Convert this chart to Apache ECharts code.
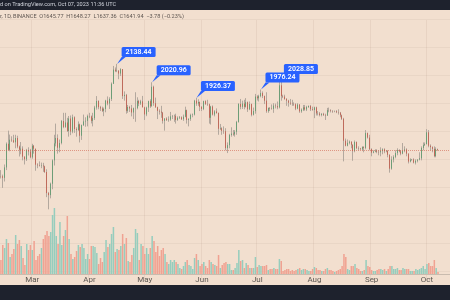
<!DOCTYPE html>
<html><head><meta charset="utf-8">
<script src="https://cdn.jsdelivr.net/npm/echarts@6/dist/echarts.min.js"></script>
<style>html,body{margin:0;padding:0;background:#f2dfcf}#c{width:450px;height:300px}</style>
</head><body><div id="c"></div><script>
// ---- data ----
const startDate = '2023-02-12';
const padDays = 6;
// [open, high, low, close] per day from 2023-02-12 to 2023-10-07
const ohlc = [
[1515,1543,1504,1514],[1514,1522,1461,1507],[1507,1570,1490,1556],[1556,1680,1543,1673],[1673,1742,1640,1642],
[1642,1721,1635,1694],[1694,1712,1683,1691],[1691,1720,1678,1681],[1681,1720,1650,1703],[1703,1715,1650,1659],
[1659,1664,1609,1643],[1643,1682,1620,1648],[1648,1660,1590,1608],[1608,1610,1570,1595],[1595,1647,1587,1641],
[1641,1655,1614,1634],[1634,1647,1600,1605],[1605,1673,1598,1663],[1663,1667,1623,1648],[1648,1648,1540,1569],
[1569,1576,1552,1566],[1566,1585,1560,1563],[1563,1579,1552,1565],[1565,1578,1535,1561],[1561,1564,1530,1534],
[1534,1547,1420,1438],[1438,1443,1368,1429],[1429,1485,1415,1480],[1480,1595,1455,1590],[1590,1720,1565,1675],
[1675,1780,1660,1703],[1703,1722,1623,1653],[1653,1695,1630,1677],[1677,1800,1670,1794],[1794,1840,1755,1762],
[1762,1840,1757,1786],[1786,1812,1735,1740],[1740,1822,1710,1808],[1808,1825,1718,1737],[1737,1830,1728,1815],
[1815,1820,1730,1751],[1751,1760,1710,1745],[1745,1792,1741,1776],[1776,1780,1680,1715],[1715,1775,1693,1772],
[1772,1830,1767,1792],[1792,1815,1763,1795],[1795,1830,1765,1822],[1822,1840,1810,1820],[1820,1825,1781,1795],
[1795,1840,1765,1810],[1810,1880,1800,1870],[1870,1937,1858,1908],[1908,1912,1860,1872],[1872,1880,1850,1865],
[1865,1875,1845,1851],[1851,1870,1821,1862],[1862,1915,1843,1910],[1910,1935,1883,1893],[1893,1930,1862,1920],
[1920,2020,1908,2012],[2012,2125,2010,2101],[2101,2115,2085,2092],[2092,2138.44,2085,2094],[2094,2098,2040,2076],
[2076,2110,2060,2104],[2104,2105,1920,1937],[1937,1965,1910,1944],[1944,1950,1835,1851],[1851,1885,1840,1873],
[1873,1880,1845,1865],[1865,1885,1820,1842],[1842,1870,1805,1866],[1866,1960,1790,1867],[1867,1930,1860,1908],
[1908,1915,1878,1893],[1893,1915,1885,1906],[1906,1938,1871,1871],[1871,1875,1800,1831],[1831,1875,1821,1870],
[1870,1910,1845,1907],[1907,1918,1868,1877],[1877,2020.96,1876,1993],[1993,2000,1880,1895],[1895,1928,1868,1872],
[1872,1875,1805,1851],[1851,1860,1830,1847],[1847,1880,1812,1841],[1841,1845,1780,1795],[1795,1810,1742,1808],
[1808,1815,1795,1799],[1799,1820,1790,1802],[1802,1845,1795,1820],[1820,1828,1805,1822],[1822,1830,1790,1823],
[1823,1835,1780,1800],[1800,1820,1795,1812],[1812,1822,1805,1815],[1815,1820,1800,1804],[1804,1830,1795,1818],
[1818,1875,1815,1855],[1855,1858,1780,1800],[1800,1810,1765,1805],[1805,1835,1795,1828],[1828,1836,1815,1830],
[1830,1915,1825,1910],[1910,1926.37,1880,1893],[1893,1918,1880,1902],[1902,1905,1850,1874],[1874,1878,1850,1862],
[1862,1910,1855,1907],[1907,1912,1885,1891],[1891,1915,1880,1889],[1889,1893,1780,1812],[1812,1880,1775,1876],
[1876,1882,1825,1830],[1830,1855,1820,1848],[1848,1865,1835,1839],[1839,1842,1720,1752],[1752,1778,1745,1755],
[1755,1760,1720,1741],[1741,1765,1725,1739],[1739,1755,1640,1651],[1651,1680,1626,1666],[1666,1725,1650,1719],
[1719,1760,1710,1726],[1726,1745,1715,1722],[1722,1745,1710,1736],[1736,1795,1720,1789],[1789,1895,1785,1891],
[1891,1920,1860,1874],[1874,1910,1862,1893],[1893,1915,1860,1874],[1874,1925,1870,1901],[1901,1905,1845,1860],
[1860,1905,1855,1890],[1890,1893,1820,1829],[1829,1870,1825,1850],[1850,1950,1835,1934],[1934,1942,1911,1924],
[1924,1945,1905,1937],[1937,1976.24,1930,1955],[1955,1965,1925,1937],[1937,1940,1890,1910],[1910,1960,1840,1849],
[1849,1870,1840,1868],[1868,1872,1850,1864],[1864,1888,1858,1862],[1862,1895,1840,1881],[1881,1893,1865,1878],
[1878,1905,1860,1871],[1871,2028.85,1865,2002],[2002,2025,1910,1937],[1937,1945,1925,1934],[1934,1945,1915,1920],
[1920,1925,1880,1910],[1910,1915,1875,1898],[1898,1920,1885,1893],[1893,1915,1880,1891],[1891,1900,1880,1889],
[1889,1895,1855,1864],[1864,1895,1860,1887],[1887,1890,1840,1848],[1848,1865,1840,1858],[1858,1885,1850,1871],
[1871,1885,1852,1859],[1859,1880,1850,1873],[1873,1882,1868,1879],[1879,1885,1850,1860],[1860,1875,1852,1856],
[1856,1875,1810,1871],[1871,1875,1825,1837],[1837,1850,1825,1836],[1836,1845,1820,1828],[1828,1838,1820,1834],
[1834,1840,1822,1828],[1828,1835,1800,1825],[1825,1868,1822,1855],[1855,1870,1843,1854],[1854,1860,1842,1850],
[1850,1855,1840,1848],[1848,1853,1843,1849],[1849,1855,1838,1843],[1843,1860,1830,1841],[1841,1845,1815,1826],
[1826,1830,1800,1806],[1806,1812,1585,1689],[1689,1700,1660,1663],[1663,1695,1660,1678],[1678,1690,1670,1684],
[1684,1685,1650,1668],[1668,1670,1588,1636],[1636,1690,1630,1682],[1682,1685,1645,1651],[1651,1660,1640,1649],
[1649,1652,1642,1645],[1645,1660,1640,1657],[1657,1660,1630,1652],[1652,1745,1645,1729],[1729,1732,1700,1705],
[1705,1720,1640,1646],[1646,1650,1610,1628],[1628,1640,1625,1634],[1634,1645,1630,1638],[1638,1645,1625,1632],
[1632,1640,1615,1630],[1630,1655,1610,1636],[1636,1650,1620,1645],[1645,1650,1625,1635],[1635,1640,1630,1637],
[1637,1640,1605,1617],[1617,1620,1531,1550],[1550,1610,1545,1594],[1594,1615,1580,1607],[1607,1640,1600,1626],
[1626,1650,1615,1641],[1641,1645,1630,1635],[1635,1640,1615,1623],[1623,1677,1620,1638],[1638,1660,1630,1644],
[1644,1650,1610,1623],[1623,1625,1575,1584],[1584,1600,1580,1593],[1593,1597,1588,1595],[1595,1600,1575,1579],
[1579,1595,1570,1588],[1588,1595,1580,1594],[1594,1630,1590,1600],[1600,1660,1590,1652],[1652,1680,1640,1666],
[1666,1680,1662,1671],[1671,1750,1670,1733],[1733,1745,1655,1663],[1663,1670,1640,1656],[1656,1660,1630,1647],
[1647,1660,1605,1611],[1611,1655,1605,1646],[1645.77,1648.27,1637.36,1641.94]
];
// daily volume (relative units)
const volumes = [
14,29,26,35,31,17,20,25,39,30, 34,28,16,9,30,24,29,24,33,14,
18,20,26,35,39,43,38,42,59,66, 38,30,52,29,38,44,58,35,20,15,
17,23,29,27,30,26,15,20,15,28, 28,27,21,10,16,12,22,34,27,30,
40,47,22,25,24,28,40,30,36,13, 12,19,26,45,41,14,30,28,20,26,
20,26,38,33,22,28,18,24,26,20, 12,10,14,12,14,12,10,6,5,8,
12,14,9,8,5,16,20,14,8,10, 12,8,6,14,12,10,9,8,19,6,
9,11,12,10,10,4,4,6,11,24, 13,14,6,11,9,6,6,6,17,7,
9,8,8,8,9,4,5,5,6,5, 5,15,13,3,4,5,5,3,4,3,
4,5,6,4,5,5,4,3,3,5, 7,6,4,4,3,3,5,6,4,4,
3,2,3,4,5,8,20,17,5,4, 8,8,10,6,5,3,3,4,14,8,
7,4,3,3,4,5,5,4,5,3, 5,8,8,5,5,6,4,4,6,5,
5,5,3,3,3,5,4,5,6,8, 5,10,11,8,8,14,6,2
];
const peakDates = ['2023-04-16','2023-05-05','2023-05-29','2023-07-03','2023-07-13'];
const monthNames = ['Jan','Feb','Mar','Apr','May','Jun','Jul','Aug','Sep','Oct','Nov','Dec'];
const headerText = 'd on TradingView.com, Oct 07, 2023 11:36 UTC';
const legendText = 'r, 1D, BINANCE  O1645.77  H1648.27  L1637.36  C1641.94  \u22123.78 (\u22120.23%)';

// ---- build ----
const dates = [];
const t0 = Date.parse(startDate + 'T00:00:00Z');
for (let i = 0; i < ohlc.length + padDays; i++) dates.push(new Date(t0 + i * 86400000).toISOString().slice(0, 10));
const isUp = r => r[3] >= r[0];
const wickData = ohlc.map(r => [r[0], r[3], r[2], r[1]]);
const bodyData = ohlc.map(r => [r[0], r[3], Math.min(r[0], r[3]), Math.max(r[0], r[3])]);
const volData = volumes.map((v, i) => ({value: v, itemStyle: {color: isUp(ohlc[i]) ? '#96cdbd' : '#f0a292'}}));
const peakPoints = peakDates.map(d => {const i = dates.indexOf(d); return {coord: [d, ohlc[i][1]], value: ohlc[i][1]};});
const lastClose = ohlc[ohlc.length - 1][3];
const isMonthStart = (idx, val) => typeof val === 'string' && val.slice(8) === '01';

const chart = echarts.init(document.getElementById('c'), null, {renderer: 'canvas'});
chart.setOption({
  animation: false,
  backgroundColor: '#f2dfcf',
  grid: [
    {left: 0, right: 0, top: 20, bottom: 20, outerBoundsMode: 'none'},
    {left: 0, right: 0, top: 184, bottom: 26, outerBoundsMode: 'none'},
    {left: 0, right: 0, top: 19, bottom: 29, outerBoundsMode: 'none'}
  ],
  xAxis: [
    {type: 'category', gridIndex: 0, data: dates, axisLine: {show: false}, axisTick: {show: false}, axisLabel: {show: false},
     splitLine: {show: true, interval: isMonthStart, lineStyle: {color: 'rgba(130,100,80,0.09)', width: 1}}},
    {type: 'category', gridIndex: 1, data: dates, axisLine: {show: true, lineStyle: {color: '#c9bbae', width: 1}}, axisTick: {show: false},
     axisLabel: {show: true, interval: isMonthStart, margin: 2, color: '#5c5752', fontSize: 8, fontFamily: 'Roboto',
       formatter: v => monthNames[parseInt(v.slice(5, 7), 10) - 1]}, splitLine: {show: false}},
    {type: 'category', gridIndex: 2, data: dates, show: false}
  ],
  yAxis: [
    {type: 'log', gridIndex: 0, min: 1101, max: 2447, show: false, splitLine: {show: false}},
    {type: 'value', gridIndex: 1, min: 0, max: 90, show: false, splitLine: {show: false}},
    {type: 'value', gridIndex: 2, min: 0, max: 9, interval: 1, axisLine: {show: false}, axisTick: {show: false}, axisLabel: {show: false},
     splitLine: {show: true, lineStyle: {color: 'rgba(130,100,80,0.07)', width: 1}}}
  ],
  series: [
    {type: 'bar', xAxisIndex: 1, yAxisIndex: 1, data: volData, barCategoryGap: '18%', z: 1},
    {type: 'candlestick', xAxisIndex: 0, yAxisIndex: 0, data: wickData, barWidth: 0.4, z: 2,
     itemStyle: {color: '#b3a89e', color0: '#b3a89e', borderColor: '#b3a89e', borderColor0: '#b3a89e', borderColorDoji: '#b3a89e', borderWidth: 1}},
    {type: 'candlestick', xAxisIndex: 0, yAxisIndex: 0, data: bodyData, barWidth: 1.3, z: 3,
     itemStyle: {color: '#4f9866', color0: '#c4503f', borderColor: '#4f9866', borderColor0: '#c4503f', borderColorDoji: '#c4503f', borderWidth: 0.7},
     markLine: {silent: true, symbol: ['none', 'none'], label: {show: false},
       lineStyle: {type: 'dotted', color: 'rgba(205,90,70,0.55)', width: 1}, data: [{yAxis: lastClose}]},
     markPoint: {silent: true, symbol: 'path://M0,7 L4.5,0 L8.5,0 Z', symbolSize: [8.5, 7], symbolKeepAspect: false,
       symbolOffset: [4.25, -3.5], itemStyle: {color: '#2962ff'},
       label: {show: true, position: 'inside', offset: [17.25, -8.5], color: '#ffffff', fontSize: 7, fontWeight: 600, fontFamily: 'Roboto',
         backgroundColor: '#2962ff', borderRadius: 1.5, padding: [2, 4, 1, 4], lineHeight: 7,
         formatter: p => Number(p.value).toFixed(2)},
       data: peakPoints}}
  ],
  graphic: [
    {type: 'rect', shape: {x: 0, y: 0, width: 450, height: 10}, style: {fill: '#1e222d'}, z: 10},
    {type: 'rect', shape: {x: 0, y: 285, width: 450, height: 15}, style: {fill: '#1e222d'}, z: 10},
    {type: 'text', x: 0, y: 5, z: 11, style: {text: headerText, fill: '#d1d4dc', font: '5.6px Roboto', verticalAlign: 'middle'}},
    {type: 'text', x: 0, y: 17, z: 11, style: {text: legendText, fill: '#5e5651', font: '5.6px Roboto', verticalAlign: 'middle'}}
  ]
});
</script></body></html>
